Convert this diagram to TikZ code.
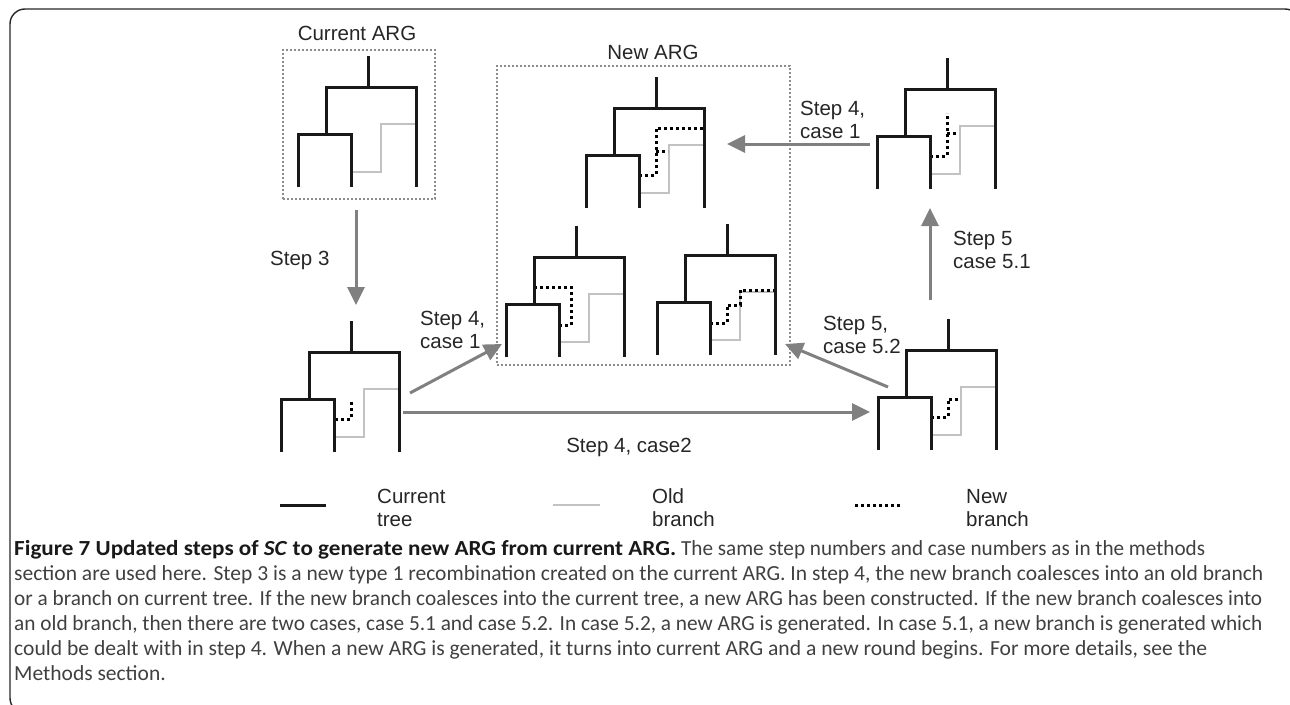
\documentclass[tikz,border=0pt]{standalone}
\usepackage{fontspec}
\setmainfont{Liberation Sans}
\newfontfamily\capfont{Carlito}
\usepackage{tikz}
\usetikzlibrary{arrows.meta, positioning}

\definecolor{oldgray}{HTML}{C2C2C2}
\definecolor{argray}{HTML}{808080}
\definecolor{boxgray}{HTML}{8C8C8C}
\definecolor{captxt}{HTML}{404040}

% one tree drawn from its root top; #2 = new branch
\newcommand{\argtree}[2]{%
  \begin{scope}[shift={(#1)}]
    \draw[ob] (-17,116) -- (13,116) -- (13,68) -- (48,68);
    #2
    \draw[tr] (0,0) -- (0,31);
    \draw[tr] (-42,78) -- (-42,31) -- (48,31) -- (48,131);
    \draw[tr] (-70,131) -- (-70,78) -- (-17,78) -- (-17,131);
  \end{scope}}
% caption line set to a given width
\newcommand{\capline}[2]{\resizebox{#1}{\height}{#2}}

\begin{document}
\begin{tikzpicture}[x=1pt, y=-1pt,
  tr/.style={line width=3pt, black!90},
  ob/.style={line width=2.5pt, oldgray},
  nb/.style={line width=3pt, dash pattern=on 3pt off 3pt, black},
  ar/.style={line width=3pt, argray, -{Triangle[length=18pt, width=17pt]}},
  bx/.style={draw=boxgray, line width=2pt, dash pattern=on 2pt off 2pt, inner sep=0pt},
  lb/.style={font=\fontsize{20.5}{23}\selectfont, text=black!85, inner sep=0pt, align=left}]
  \useasboundingbox (0,0) rectangle (1290,704);
  \draw[line width=1.4pt, black!85, rounded corners=15pt] (10,9) rectangle (1300,713);

  % the two ARG boxes
  \node[bx, minimum width=152pt, minimum height=149pt] (curbox) at (359,124.5) {};
  \node[bx, minimum width=293pt, minimum height=299pt] (newbox) at (643.5,215.5) {};
  \node[lb] (curlbl) at (357,33) {Current ARG};
  \node[lb] (newlbl) at (653,52) {New ARG};

  % root tops of the trees
  \coordinate (curtree) at (368,56);
  \coordinate (newtop) at (656,77);
  \coordinate (newleft) at (576,226);
  \coordinate (newright) at (727,224);
  \coordinate (tree51) at (947,58);
  \coordinate (tree3) at (351,321);
  \coordinate (tree52) at (948,319);

  \argtree{curtree}{}
  \argtree{newtop}{\draw[nb] (-17,98) -- (0,98) -- (0,51) -- (47,51);
    \draw[nb] (0,74) -- (12,74);}
  \argtree{newleft}{\draw[nb] (-17,99) -- (-5,99) -- (-5,61) -- (-42,61);}
  \argtree{newright}{\draw[nb] (-17,99) -- (0,99) -- (0,81) -- (13,81) -- (13,66) -- (48,66);}
  \argtree{tree51}{\draw[nb] (-17,98) -- (0,98) -- (0,55);
    \draw[nb] (0,75) -- (12,75);}
  \argtree{tree3}{\draw[nb] (-16,98) -- (0,98) -- (0,79);}
  \argtree{tree52}{\draw[nb] (-17,98) -- (0,98) -- (0,80) -- (12,80);}

  % arrow ends
  \coordinate (s3a) at (356,210);
  \coordinate (s3b) at (356,305);
  \coordinate (s4a) at (410,393);
  \coordinate (s4b) at (502,344);
  \coordinate (s42a) at (403,412);
  \coordinate (s42b) at (870,412);
  \coordinate (s52a) at (888,387);
  \coordinate (s52b) at (785,344);
  \coordinate (s51a) at (930,300);
  \coordinate (s51b) at (930,208);
  \coordinate (s41a) at (870,144);
  \coordinate (s41b) at (727,144);
  \draw[ar] (s3a) -- (s3b);
  \draw[ar] (s4a) -- (s4b);
  \draw[ar] (s42a) -- (s42b);
  \draw[ar] (s52a) -- (s52b);
  \draw[ar] (s51a) -- (s51b);
  \draw[ar] (s41a) -- (s41b);

  % labels (base = last line)
  \node[lb, anchor=base west] (l3) at (270,265) {Step 3};
  \node[lb, anchor=base west] (l4) at (420,348) {Step 4,\\case 1};
  \node[lb, anchor=base] (l42) at (629,452) {Step 4, case2};
  \node[lb, anchor=base west] (l52) at (823,353) {Step 5,\\case 5.2};
  \node[lb, anchor=base west] (l51) at (953,268) {Step 5\\case 5.1};
  \node[lb, anchor=base west] (l41) at (800,138) {Step 4,\\case 1};

  % legend
  \coordinate (k1a) at (280,505); \coordinate (k1b) at (326,505);
  \coordinate (k2a) at (553,505); \coordinate (k2b) at (600,505);
  \coordinate (k3a) at (855,505); \coordinate (k3b) at (900,505);
  \draw[tr] (k1a) -- (k1b);
  \draw[ob] (k2a) -- (k2b);
  \draw[nb] (k3a) -- (k3b);
  \node[lb, anchor=base west] (k1) at (377,526) {Current\\tree};
  \node[lb, anchor=base west] (k2) at (652,526) {Old\\branch};
  \node[lb, anchor=base west] (k3) at (966,526) {New\\branch};

  % caption
  \node[anchor=north west, inner sep=0pt, align=left, text=captxt,
    font=\capfont\fontsize{21.5}{25}\selectfont] (cap) at (14,540) {%
    \capline{662pt}{\color{black!90}\bfseries Figure 7 Updated steps of \textit{SC} to generate new ARG from current ARG.}
    \capline{524pt}{The same step numbers and case numbers as in the methods}\\
    \capline{1249pt}{section are used here. Step 3 is a new type 1 recombination created on the current ARG. In step 4, the new branch coalesces into an old branch}\\
    \capline{1248pt}{or a branch on current tree. If the new branch coalesces into the current tree, a new ARG has been constructed. If the new branch coalesces into}\\
    \capline{1248pt}{an old branch, then there are two cases, case 5.1 and case 5.2. In case 5.2, a new ARG is generated. In case 5.1, a new branch is generated which}\\
    \capline{1193pt}{could be dealt with in step 4. When a new ARG is generated, it turns into current ARG and a new round begins. For more details, see the}\\
    Methods section.};
\end{tikzpicture}
\end{document}
